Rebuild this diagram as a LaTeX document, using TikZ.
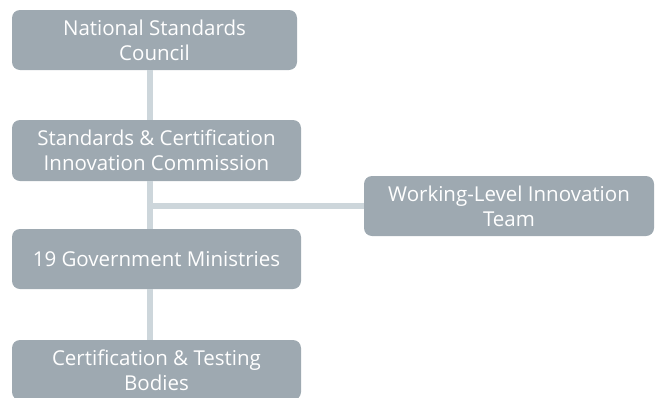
\documentclass[tikz,border=0pt]{standalone}
\usepackage{fontspec}
\setmainfont{Open Sans}
\definecolor{boxgray}{HTML}{9EA9B1}
\definecolor{linkgray}{HTML}{CDD6DB}
\tikzset{
  orgbox/.style={rectangle, rounded corners=8pt, fill=boxgray, text=white,
    align=center, inner sep=0pt, minimum height=60pt,
    font=\fontsize{20.5}{25}\selectfont},
  link/.style={linkgray, line width=6pt}
}
\begin{document}
\begin{tikzpicture}[x=1pt, y=-1pt]
    \useasboundingbox (0,0) rectangle (659,397);

    % boxes of the chain
    \node[orgbox, minimum width=285pt] (council) at (154.5,40) {National Standards\\Council};
    \node[orgbox, minimum width=289pt, minimum height=61pt] (commission) at (156.5,150.5) {Standards \& Certification\\Innovation Commission};
    \node[orgbox, minimum width=289pt] (ministries) at (156.5,259) {19 Government Ministries};
    \node[orgbox, minimum width=289pt] (bodies) at (156.5,370) {Certification \& Testing\\Bodies};

    % side box
    \node[orgbox, minimum width=290pt] (team) at (509,206) {Working-Level Innovation\\Team};

    % connectors
    \coordinate (branch) at (150,206);
    \draw[link] (council.south -| branch) -- (commission.north -| branch);
    \draw[link] (commission.south -| branch) -- (ministries.north -| branch);
    \draw[link] (ministries.south -| branch) -- (bodies.north -| branch);
    \draw[link] ([xshift=-3pt]branch) -- (team.west);
\end{tikzpicture}
\end{document}
